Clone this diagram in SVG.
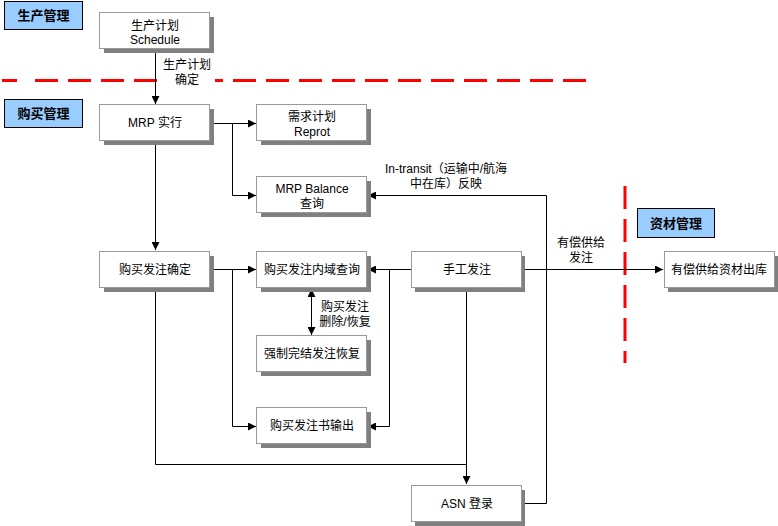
<svg xmlns="http://www.w3.org/2000/svg" width="778" height="526" viewBox="0 0 778 526">
<style>
.sh{fill:#808080}
.bx{fill:#fff;stroke:#999;stroke-width:1}
.lb{fill:#99ccff;stroke:#000;stroke-width:1}
text{font-family:"Liberation Sans","Noto Sans CJK SC",sans-serif;font-size:12px;fill:#000;text-anchor:middle;dominant-baseline:central}
.bt{font-weight:bold;font-size:13px}
.cn{fill:none;stroke:#000;stroke-width:1}
.rd{fill:none;stroke:#ff0000;stroke-width:3}
</style>
<defs>
<marker id="ah" markerUnits="userSpaceOnUse" markerWidth="8" markerHeight="8" refX="7" refY="3.5" orient="auto-start-reverse" viewBox="0 0 7 7">
<path d="M0,0 L7,3.5 L0,7 z" fill="#000"/>
</marker>
</defs>
<rect width="778" height="526" fill="#fff"/>

<g id="dividers">
<line class="rd" x1="2" y1="80.5" x2="17" y2="80.5"/>
<line class="rd" x1="35" y1="80.5" x2="586" y2="80.5" stroke-dasharray="23 10"/>
<line class="rd" x1="625" y1="186" x2="625" y2="363" stroke-dasharray="23 10"/>
</g>

<g id="label-seisan"><rect class="lb" x="4.5" y="1.5" width="78" height="28"/><text class="bt" x="43.5" y="15.5">生产管理</text></g>
<g id="label-kobai"><rect class="lb" x="4.5" y="99.5" width="78" height="28"/><text class="bt" x="43.5" y="113.5">购买管理</text></g>
<g id="label-shizai"><rect class="lb" x="637.5" y="208.5" width="77" height="29"/><text class="bt" x="676" y="223">资材管理</text></g>

<g id="connectors">
<rect x="158" y="57" width="57" height="31" fill="#fff"/>
<path class="cn" d="M155.5,49 V104" marker-end="url(#ah)"/>
<path class="cn" d="M210,123.5 H256" marker-end="url(#ah)"/>
<path class="cn" d="M232.5,123.5 V195.5 H256" marker-end="url(#ah)"/>
<path class="cn" d="M155.5,141 V250" marker-end="url(#ah)"/>
<path class="cn" d="M210,269.5 H256" marker-end="url(#ah)"/>
<path class="cn" d="M232.5,269.5 V426.5 H256" marker-end="url(#ah)"/>
<path class="cn" d="M155.5,288 V464.5 H466.5"/>
<path class="cn" d="M466.5,288 V484" marker-end="url(#ah)"/>
<path class="cn" d="M411,269.5 H368" marker-end="url(#ah)"/>
<path class="cn" d="M389.5,269.5 V426.5 H368" marker-end="url(#ah)"/>
<path class="cn" d="M311.5,289 V335" marker-start="url(#ah)" marker-end="url(#ah)"/>
<path class="cn" d="M522,503.5 H546.5 V195.5 H368" marker-end="url(#ah)"/>
<path class="cn" d="M522,269.5 H663" marker-end="url(#ah)"/>
<text x="187" y="65">生产计划</text>
<text x="187" y="80">确定</text>
<text x="345" y="307">购买发注</text>
<text x="345" y="322">删除/恢复</text>
<text x="446" y="169">In-transit（运输中/航海</text>
<text x="446" y="184">中在库）反映</text>
<text x="581" y="243">有偿供给</text>
<text x="581" y="258">发注</text>
</g>

<g id="n-schedule"><rect class="sh" x="104" y="17" width="110" height="36"/><rect class="bx" x="99.5" y="12.5" width="110" height="36"/><text x="155" y="26">生产计划</text><text x="155" y="40">Schedule</text></g>
<g id="n-mrp"><rect class="sh" x="104" y="109" width="110" height="36"/><rect class="bx" x="99.5" y="104.5" width="110" height="36"/><text x="155" y="123">MRP 实行</text></g>
<g id="n-reprot"><rect class="sh" x="261" y="109" width="110" height="36"/><rect class="bx" x="256.5" y="104.5" width="110" height="36"/><text x="312" y="117">需求计划</text><text x="312" y="132">Reprot</text></g>
<g id="n-balance"><rect class="sh" x="261" y="181" width="110" height="36"/><rect class="bx" x="256.5" y="176.5" width="110" height="36"/><text x="312" y="189">MRP Balance</text><text x="312" y="204">查询</text></g>
<g id="n-kakutei"><rect class="sh" x="104" y="256" width="110" height="36"/><rect class="bx" x="99.5" y="251.5" width="110" height="36"/><text x="155" y="270">购买发注确定</text></g>
<g id="n-naiiki"><rect class="sh" x="261" y="256" width="110" height="36"/><rect class="bx" x="256.5" y="251.5" width="110" height="36"/><text x="312" y="270">购买发注内域查询</text></g>
<g id="n-kyosei"><rect class="sh" x="261" y="340" width="110" height="36"/><rect class="bx" x="256.5" y="335.5" width="110" height="36"/><text x="312" y="354">强制完结发注恢复</text></g>
<g id="n-output"><rect class="sh" x="261" y="412" width="110" height="36"/><rect class="bx" x="256.5" y="407.5" width="110" height="36"/><text x="312" y="426">购买发注书输出</text></g>
<g id="n-manual"><rect class="sh" x="415" y="256" width="110" height="36"/><rect class="bx" x="411.5" y="251.5" width="110" height="36"/><text x="467" y="270">手工发注</text></g>
<g id="n-shizai"><rect class="sh" x="668" y="256" width="110" height="36"/><rect class="bx" x="664.5" y="251.5" width="110" height="36"/><text x="719" y="270">有偿供给资材出库</text></g>
<g id="n-asn"><rect class="sh" x="415" y="490" width="110" height="36"/><rect class="bx" x="411.5" y="485.5" width="110" height="36"/><text x="467" y="504">ASN 登录</text></g>
</svg>
